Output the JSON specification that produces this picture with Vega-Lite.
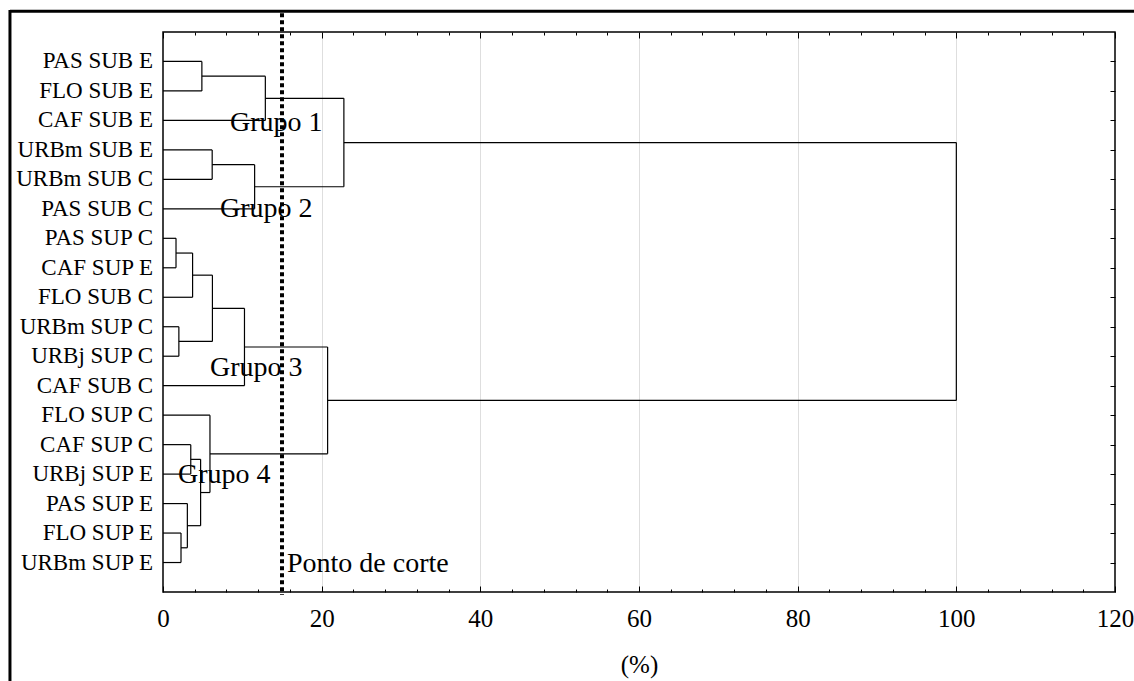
{
  "$schema": "https://vega.github.io/schema/vega-lite/v6.json",
  "width": 952,
  "height": 560,
  "autosize": {"type": "none"},
  "padding": {"left": 163, "top": 32, "right": 19, "bottom": 89},
  "background": "white",
  "config": {
    "view": {"stroke": "#000", "strokeWidth": 1.5},
    "font": "Liberation Serif, Times New Roman, serif"
  },
  "datasets": {
    "nodes": [
      {"node": "A", "h": 4.9, "ya": 1, "ha": 0, "yb": 2, "hb": 0},
      {"node": "B", "h": 12.9, "ya": 1.5, "ha": 4.9, "yb": 3, "hb": 0},
      {"node": "C", "h": 6.2, "ya": 4, "ha": 0, "yb": 5, "hb": 0},
      {"node": "D", "h": 11.55, "ya": 4.5, "ha": 6.2, "yb": 6, "hb": 0},
      {"node": "E", "h": 22.8, "ya": 2.25, "ha": 12.9, "yb": 5.25, "hb": 11.55},
      {"node": "F", "h": 1.64, "ya": 7, "ha": 0, "yb": 8, "hb": 0},
      {"node": "G", "h": 3.73, "ya": 7.5, "ha": 1.64, "yb": 9, "hb": 0},
      {"node": "H", "h": 2.0, "ya": 10, "ha": 0, "yb": 11, "hb": 0},
      {"node": "I", "h": 6.23, "ya": 8.25, "ha": 3.73, "yb": 10.5, "hb": 2.0},
      {"node": "J", "h": 10.27, "ya": 9.375, "ha": 6.23, "yb": 12, "hb": 0},
      {"node": "K", "h": 3.5, "ya": 14, "ha": 0, "yb": 15, "hb": 0},
      {"node": "L", "h": 2.27, "ya": 17, "ha": 0, "yb": 18, "hb": 0},
      {"node": "M", "h": 3.07, "ya": 16, "ha": 0, "yb": 17.5, "hb": 2.27},
      {"node": "N", "h": 4.74, "ya": 14.5, "ha": 3.5, "yb": 16.75, "hb": 3.07},
      {"node": "O", "h": 5.92, "ya": 13, "ha": 0, "yb": 15.625, "hb": 4.74},
      {"node": "P", "h": 20.75, "ya": 10.6875, "ha": 10.27, "yb": 14.3125, "hb": 5.92},
      {"node": "Q", "h": 100, "ya": 3.75, "ha": 22.8, "yb": 12.5, "hb": 20.75}
    ],
    "leaves": [
      {"name": "PAS SUB E", "pos": 1},
      {"name": "FLO SUB E", "pos": 2},
      {"name": "CAF SUB E", "pos": 3},
      {"name": "URBm SUB E", "pos": 4},
      {"name": "URBm SUB C", "pos": 5},
      {"name": "PAS SUB C", "pos": 6},
      {"name": "PAS SUP C", "pos": 7},
      {"name": "CAF SUP E", "pos": 8},
      {"name": "FLO SUB C", "pos": 9},
      {"name": "URBm SUP C", "pos": 10},
      {"name": "URBj SUP C", "pos": 11},
      {"name": "CAF SUB C", "pos": 12},
      {"name": "FLO SUP C", "pos": 13},
      {"name": "CAF SUP C", "pos": 14},
      {"name": "URBj SUP E", "pos": 15},
      {"name": "PAS SUP E", "pos": 16},
      {"name": "FLO SUP E", "pos": 17},
      {"name": "URBm SUP E", "pos": 18}
    ],
    "groups": [
      {"label": "Grupo 1", "x": 8.45, "y": 3.35},
      {"label": "Grupo 2", "x": 7.19, "y": 6.27},
      {"label": "Grupo 3", "x": 5.92, "y": 11.66},
      {"label": "Grupo 4", "x": 1.89, "y": 15.31}
    ],
    "one": [{}]
  },
  "resolve": {"axis": {"x": "independent", "y": "independent"}},
  "layer": [
    {
      "data": {"name": "nodes"},
      "mark": {"type": "rule", "color": "#000", "strokeWidth": 1.2},
      "encoding": {
        "x": {
          "field": "h", "type": "quantitative",
          "scale": {"domain": [0, 120], "nice": false, "zero": false},
          "axis": {
            "orient": "bottom",
            "values": [0,4,8,12,16,20,24,28,32,36,40,44,48,52,56,60,64,68,72,76,80,84,88,92,96,100,104,108,112,116,120],
            "labelExpr": "datum.value % 20 === 0 ? datum.label : ''",
            "domain": false,
            "tickColor": "#000",
            "tickSize": {"condition": {"test": "datum.value % 20 === 0", "value": -6}, "value": -3},
            "labelPadding": 20,
            "labelFontSize": 25,
            "labelFont": "Liberation Serif, Times New Roman, serif",
            "labelColor": "#000",
            "labelFlush": false,
            "labelOverlap": false,
            "grid": true,
            "gridColor": "#bdbdbd",
            "gridDash": [1, 1],
            "gridWidth": 1,
            "gridOpacity": {"condition": {"test": "datum.value % 20 === 0 && datum.value > 0 && datum.value < 120", "value": 1}, "value": 0},
            "title": "(%)",
            "titleFont": "Liberation Serif, Times New Roman, serif",
            "titleFontSize": 25,
            "titleFontWeight": "normal",
            "titleColor": "#000",
            "titlePadding": 18
          }
        },
        "y": {
          "field": "ya", "type": "quantitative",
          "scale": {"domain": [0, 19], "nice": false, "zero": false, "reverse": true},
          "axis": {
            "orient": "right",
            "values": [1,2,3,4,5,6,7,8,9,10,11,12,13,14,15,16,17,18],
            "labels": false,
            "domain": false,
            "grid": false,
            "tickColor": "#000",
            "tickSize": -5,
            "title": null
          }
        },
        "y2": {"field": "yb"}
      }
    },
    {
      "data": {"name": "nodes"},
      "mark": {"type": "rule", "color": "#000", "strokeWidth": 1.2},
      "encoding": {
        "x": {
          "field": "ha", "type": "quantitative",
          "axis": {
            "orient": "top",
            "values": [0,4,8,12,16,20,24,28,32,36,40,44,48,52,56,60,64,68,72,76,80,84,88,92,96,100,104,108,112,116,120],
            "labels": false,
            "domain": false,
            "grid": false,
            "tickColor": "#000",
            "tickSize": {"condition": {"test": "datum.value % 20 === 0", "value": -6}, "value": -3},
            "title": null
          }
        },
        "x2": {"field": "h"},
        "y": {"field": "ya", "type": "quantitative", "axis": null}
      }
    },
    {
      "data": {"name": "nodes"},
      "mark": {"type": "rule", "color": "#000", "strokeWidth": 1.2},
      "encoding": {
        "x": {"field": "hb", "type": "quantitative", "axis": null},
        "x2": {"field": "h"},
        "y": {"field": "yb", "type": "quantitative", "axis": null}
      }
    },
    {
      "data": {"name": "leaves"},
      "mark": {"type": "text", "align": "right", "baseline": "middle", "dx": -10, "fontSize": 23, "font": "Liberation Serif, Times New Roman, serif", "color": "#000"},
      "encoding": {
        "x": {"datum": 0, "type": "quantitative", "axis": null},
        "y": {"field": "pos", "type": "quantitative", "axis": null},
        "text": {"field": "name"}
      }
    },
    {
      "data": {"name": "one"},
      "mark": {"type": "rule", "color": "#000", "strokeWidth": 4, "strokeDash": [4, 3]},
      "encoding": {
        "x": {"datum": 15, "type": "quantitative", "axis": null},
        "y": {"datum": -0.64, "type": "quantitative", "axis": null},
        "y2": {"datum": 19.1}
      }
    },
    {
      "data": {"name": "groups"},
      "mark": {"type": "text", "align": "left", "baseline": "alphabetic", "fontSize": 28, "font": "Liberation Serif, Times New Roman, serif", "color": "#000"},
      "encoding": {
        "x": {"field": "x", "type": "quantitative", "axis": null},
        "y": {"field": "y", "type": "quantitative", "axis": null},
        "text": {"field": "label"}
      }
    },
    {
      "data": {"values": [{"label": "Ponto de corte", "x": 15, "y": 18.31}]},
      "mark": {"type": "text", "align": "left", "baseline": "alphabetic", "dx": 5, "fontSize": 28, "font": "Liberation Serif, Times New Roman, serif", "color": "#000"},
      "encoding": {
        "x": {"field": "x", "type": "quantitative", "axis": null},
        "y": {"field": "y", "type": "quantitative", "axis": null},
        "text": {"field": "label"}
      }
    },
    {
      "data": {"name": "one"},
      "mark": {"type": "rule", "color": "#000", "strokeWidth": 3},
      "encoding": {
        "x": {"datum": -19.29, "type": "quantitative", "axis": null},
        "x2": {"datum": 125},
        "y": {"datum": -0.7, "type": "quantitative", "axis": null}
      }
    },
    {
      "data": {"name": "one"},
      "mark": {"type": "rule", "color": "#000", "strokeWidth": 3},
      "encoding": {
        "x": {"datum": -19.29, "type": "quantitative", "axis": null},
        "y": {"datum": -0.75, "type": "quantitative", "axis": null},
        "y2": {"datum": 22.5}
      }
    }
  ]
}
